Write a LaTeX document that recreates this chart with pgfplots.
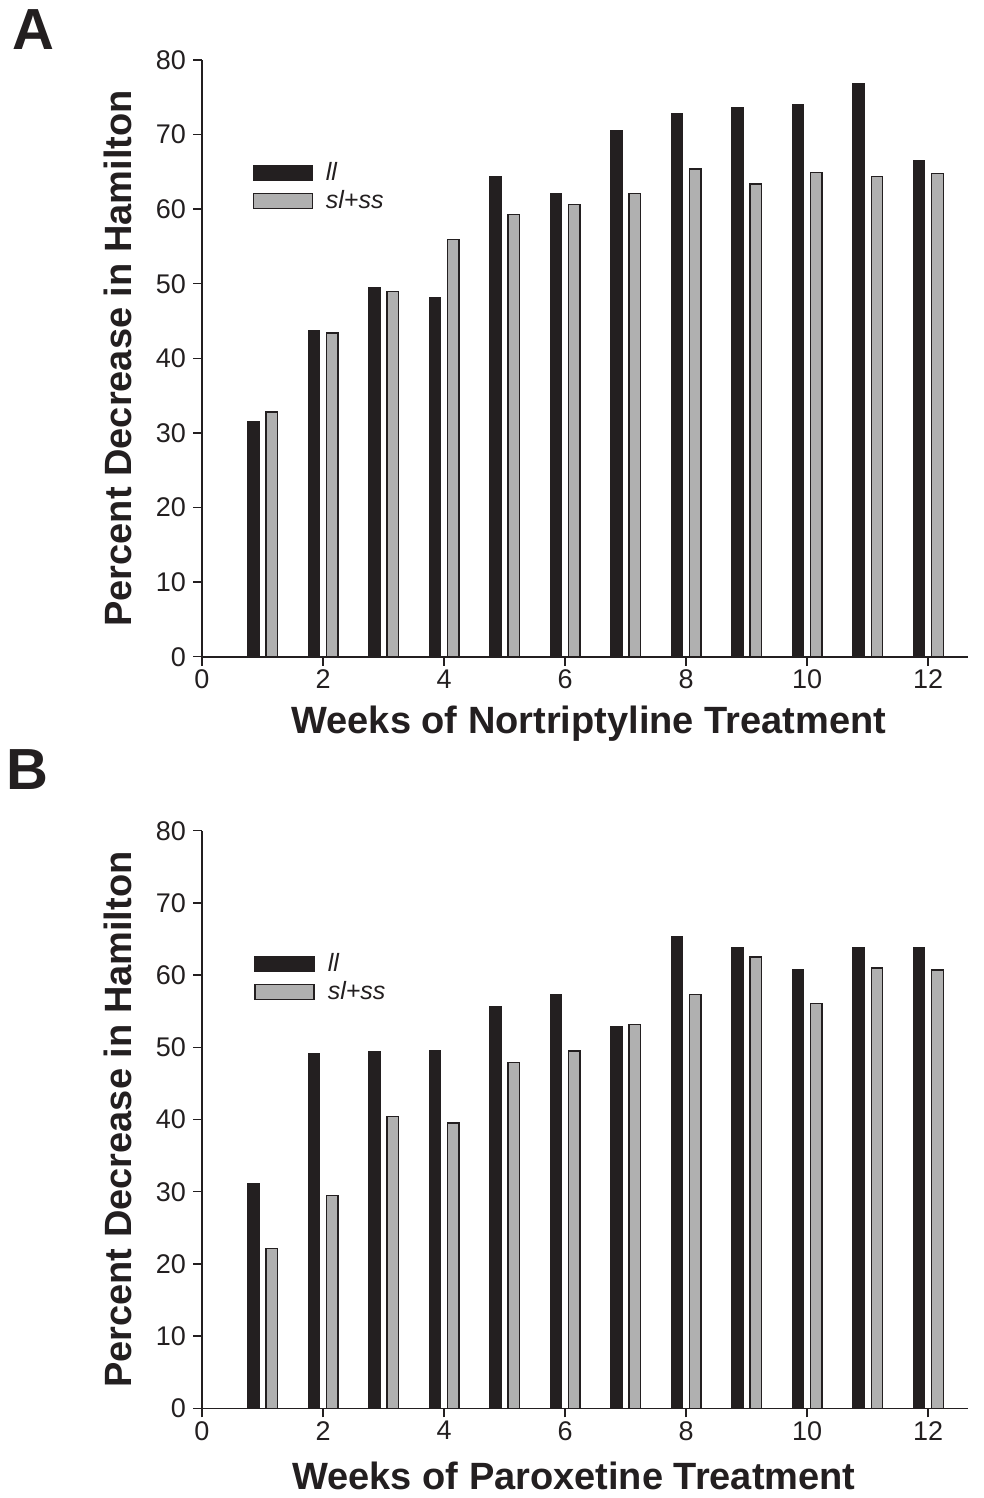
\documentclass[border=0pt]{standalone}
\usepackage{fontspec}
\setmainfont{Liberation Sans}
\usepackage{pgfplots}
\usepackage{pgfplotstable}
\pgfplotsset{compat=1.18}

\definecolor{barblack}{HTML}{231F20}
\definecolor{bargrey}{HTML}{B0B0B0}

\pgfplotstableread{
week ll sl
1  31.6 32.8
2  43.8 43.4
3  49.5 49.0
4  48.1 55.9
5  64.4 59.3
6  62.1 60.6
7  70.6 62.1
8  72.8 65.4
9  73.7 63.4
10 74.1 64.9
11 76.9 64.4
12 66.5 64.8
}\dataA

\pgfplotstableread{
week ll sl
1  31.1 22.1
2  49.2 29.5
3  49.4 40.4
4  49.6 39.5
5  55.7 47.9
6  57.3 49.5
7  52.9 53.2
8  65.4 57.3
9  63.8 62.5
10 60.8 56.1
11 63.8 61.0
12 63.8 60.7
}\dataB

\pgfplotsset{
  /pgf/number format/assume math mode=true,
  myaxis/.style={
    scale only axis,
    width=383pt,
    xmin=0, xmax=12.66,
    ymin=0, ymax=80,
    axis x line*=bottom,
    axis y line*=left,
    axis line style={line width=0.8pt, color=barblack},
    xtick={0,2,...,12},
    ytick={0,10,...,80},
    tick align=outside,
    major tick length=4.5pt,
    tick style={line width=0.7pt, color=barblack},
    ticklabel style={font=\fontsize{13.5}{16}\selectfont, text=barblack},
    xticklabel style={yshift=1.5pt},
    xlabel style={font=\fontsize{19}{22}\selectfont\bfseries, text=barblack, anchor=base},
    ylabel style={font=\fontsize{19}{22}\selectfont\bfseries, text=barblack, anchor=center, at={(axis description cs:-0.1097,0.5)}},
    ylabel={Percent Decrease in Hamilton},
    ybar,
    bar width=0.19,
    legend cell align=left,
    legend style={draw=none, fill=none, anchor=north west,
      font=\fontsize{12.5}{15}\selectfont\itshape,
      row sep=1.5pt, inner sep=0pt,
      nodes={inner sep=1pt, text=barblack}},
    legend image code/.code={\draw[##1, line width=0.6pt] (0pt,-3.75pt) rectangle (29.5pt,3.75pt);
      \path (35pt,0pt);},
  },
  llbar/.style={fill=barblack, draw=barblack, line width=0.5pt, bar shift=-0.15},
  slbar/.style={fill=bargrey, draw=barblack, line width=0.7pt, bar shift=0.155},
}

\begin{document}
\begin{tikzpicture}[x=1pt,y=1pt]
\useasboundingbox (0,0) rectangle (492,-749);

\node[anchor=base west, font=\fontsize{29}{32}\selectfont\bfseries, text=barblack, inner sep=0pt] at (6.2,-25) {A};
\node[anchor=base west, font=\fontsize{29}{32}\selectfont\bfseries, text=barblack, inner sep=0pt] at (3.2,-394.6) {B};

\begin{axis}[myaxis,
  at={(101pt,-328.35pt)}, anchor=south west,
  height=298.35pt,
  xlabel={Weeks of Nortriptyline Treatment},
  xlabel style={at={(axis description cs:0.505,-0.1279)}},
  legend style={at={(axis description cs:0.0655,0.833)}},
]
\addplot[llbar] table[x=week, y=ll] {\dataA};
\addlegendentry{ll}
\addplot[slbar] table[x=week, y=sl] {\dataA};
\addlegendentry{sl+ss}
\end{axis}

\begin{axis}[myaxis,
  at={(101pt,-704.15pt)}, anchor=south west,
  height=288.8pt,
  xlabel={Weeks of Paroxetine Treatment},
  xlabel style={at={(axis description cs:0.4856,-0.1414)}},
  legend style={at={(axis description cs:0.068,0.792)}},
]
\addplot[llbar] table[x=week, y=ll] {\dataB};
\addlegendentry{ll}
\addplot[slbar] table[x=week, y=sl] {\dataB};
\addlegendentry{sl+ss}
\end{axis}
\end{tikzpicture}
\end{document}
